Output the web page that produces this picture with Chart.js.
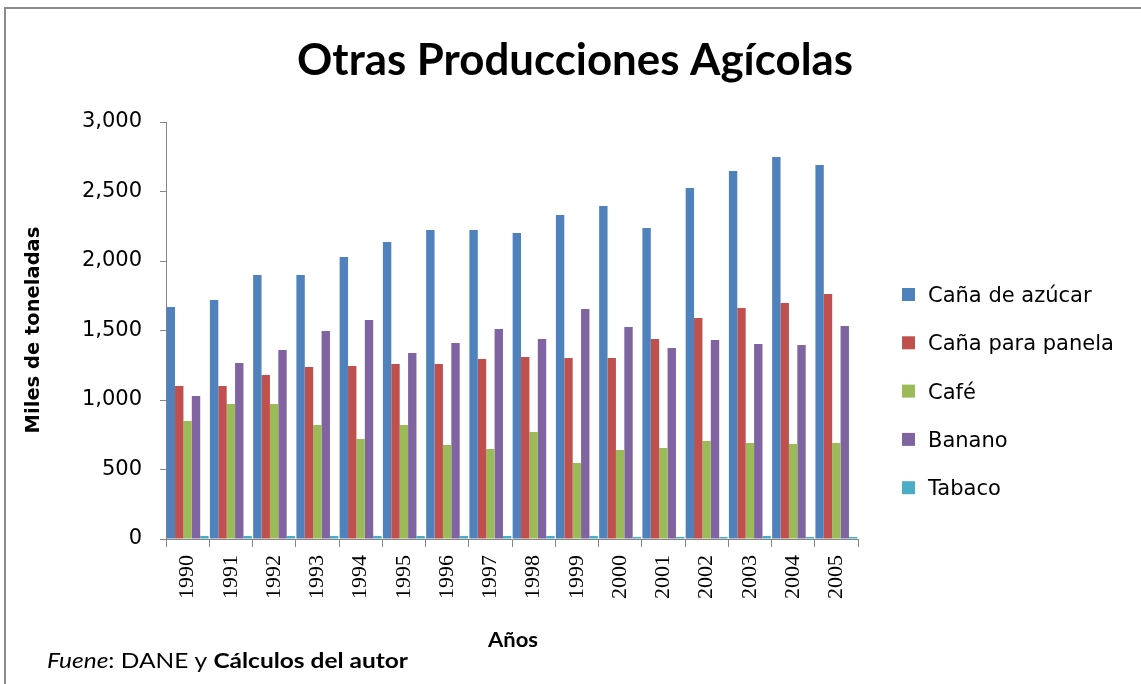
<!DOCTYPE html>
<html>
<head>
<meta charset="utf-8">
<script src="https://cdn.jsdelivr.net/npm/chart.js@4.4.0/dist/chart.umd.min.js"></script>
<style>
html,body{margin:0;padding:0;background:#fff;}
canvas{display:block;}
</style>
</head>
<body>
<canvas id="c" width="1141" height="684"></canvas>
<script>
const years = ["1990","1991","1992","1993","1994","1995","1996","1997","1998","1999","2000","2001","2002","2003","2004","2005"];
const canaAzucar = [1669,1719,1899,1899,2029,2137,2223,2223,2201,2331,2396,2237,2525,2647,2748,2691];
const canaPanela = [1101,1101,1180,1237,1245,1259,1259,1295,1309,1302,1302,1439,1590,1662,1698,1763];
const cafe = [849,971,971,820,719,820,676,647,770,547,640,655,705,691,683,691];
const banano = [1029,1266,1360,1496,1575,1338,1410,1511,1439,1655,1525,1374,1432,1403,1396,1532];
const tabaco = [22,22,22,22,22,22,22,22,22,22,15,15,15,22,15,15];
const seriesNames = ["Caña de azúcar","Caña para panela","Café","Banano","Tabaco"];
const seriesColors = ["#4F81BD","#C0504D","#9BBB59","#8064A2","#4BACC6"];
const yTicks = [0,500,1000,1500,2000,2500,3000];
const titleText = "Otras Producciones Agícolas";
const yTitle = "Miles de toneladas";
const xTitle = "Años";

const AXIS = "#868686";

function fitText(ctx, text, x, y, font, width, align) {
  ctx.save();
  ctx.font = font;
  const w = ctx.measureText(text).width;
  const sx = width / w;
  ctx.translate(x, y);
  ctx.scale(sx, 1);
  ctx.textAlign = align || "center";
  ctx.textBaseline = "alphabetic";
  ctx.fillText(text, 0, 0);
  ctx.restore();
}

const decor = {
  id: "decor",
  afterDraw(chart) {
    const ctx = chart.ctx;
    ctx.save();
    ctx.strokeStyle = "#8A8A8A";
    ctx.lineWidth = 2;
    ctx.beginPath();
    ctx.moveTo(5, 684);
    ctx.lineTo(5, 8);
    ctx.lineTo(1141, 8);
    ctx.stroke();
    ctx.fillStyle = "#000";
    fitText(ctx, titleText, 575, 75, "bold 44px Lato", 556, "center");
    ctx.save();
    ctx.translate(39, 330);
    ctx.rotate(-Math.PI / 2);
    ctx.font = "bold 19.5px 'DejaVu Sans'";
    ctx.textAlign = "center";
    ctx.textBaseline = "alphabetic";
    ctx.fillText(yTitle, 0, 0);
    ctx.restore();
    fitText(ctx, xTitle, 513, 647, "bold 21px Lato", 50, "center");
    const segs = [["Fuene", "italic 21px Lato"], [": DANE y ", "21px Lato"], ["Cálculos del autor", "bold 21px Lato"]];
    let total = 0;
    segs.forEach(s => { ctx.font = s[1]; total += ctx.measureText(s[0]).width; });
    const sx = 361 / total;
    ctx.save();
    ctx.translate(47, 668);
    ctx.scale(sx, 1);
    let xx = 0;
    ctx.textAlign = "left";
    segs.forEach(s => { ctx.font = s[1]; ctx.fillText(s[0], xx, 0); xx += ctx.measureText(s[0]).width; });
    ctx.restore();
    chart.data.datasets.forEach((ds, i) => {
      const top = 288 + i * 48.3;
      ctx.fillStyle = ds.backgroundColor;
      ctx.fillRect(902, top, 13, 13);
      ctx.fillStyle = "#000";
      ctx.font = "21px 'DejaVu Sans'";
      ctx.textAlign = "left";
      ctx.textBaseline = "alphabetic";
      ctx.fillText(ds.label, 928, top + 14);
    });
    ctx.restore();
  }
};

const dataArrays = [canaAzucar, canaPanela, cafe, banano, tabaco];
new Chart(document.getElementById("c"), {
  type: "bar",
  data: {
    labels: years,
    datasets: dataArrays.map((d, i) => ({
      label: seriesNames[i],
      data: d,
      backgroundColor: seriesColors[i],
      borderWidth: 0,
      categoryPercentage: 0.97,
      barPercentage: 1.0
    }))
  },
  options: {
    responsive: false,
    animation: false,
    devicePixelRatio: 1,
    layout: { padding: { top: 122, right: 283, left: 0, bottom: 0 } },
    plugins: { legend: { display: false }, title: { display: false }, tooltip: { enabled: false } },
    scales: {
      x: {
        afterFit(s) { s.height = 145; },
        grid: { display: true, drawOnChartArea: false, offset: true, tickLength: 8, color: AXIS, tickColor: AXIS },
        border: { display: true, color: AXIS, width: 1 },
        ticks: { maxRotation: 90, minRotation: 90, padding: 8, color: "#000", autoSkip: false,
          font: () => ({ family: "Liberation Serif", size: 22 }) }
      },
      y: {
        min: 0, max: 3000,
        afterFit(s) { s.width = 166; },
        afterBuildTicks(s) { s.ticks = yTicks.map(v => ({ value: v })); },
        grid: { display: true, drawOnChartArea: false, tickLength: 6, color: AXIS, tickColor: AXIS },
        border: { display: true, color: AXIS, width: 1 },
        ticks: {
          padding: 18, color: "#000", font: { family: "DejaVu Sans", size: 21 },
          callback: v => v.toLocaleString("en-US")
        }
      }
    }
  },
  plugins: [decor]
});
</script>
</body>
</html>
